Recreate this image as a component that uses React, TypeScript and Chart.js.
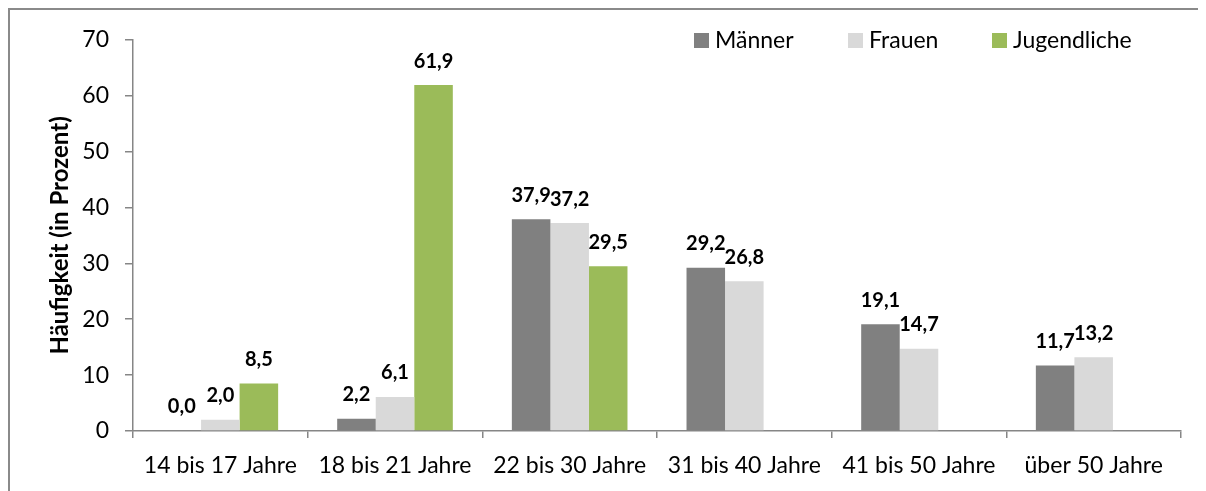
import React, { useEffect, useRef } from 'react';
import { Chart, registerables } from 'chart.js';

Chart.register(...registerables);

const categories = ['14 bis 17 Jahre', '18 bis 21 Jahre', '22 bis 30 Jahre', '31 bis 40 Jahre', '41 bis 50 Jahre', 'über 50 Jahre'];
const maenner: (number | null)[] = [0.0, 2.2, 37.9, 29.2, 19.1, 11.7];
const frauen: (number | null)[] = [2.0, 6.1, 37.2, 26.8, 14.7, 13.2];
const jugendliche: (number | null)[] = [8.5, 61.9, 29.5, null, null, null];
const seriesNames = ['Männer', 'Frauen', 'Jugendliche'];
const seriesColors = ['#808080', '#D9D9D9', '#9BBB59'];
const yAxisTitle = 'Häufigkeit (in Prozent)';
const yMin = 0;
const yMax = 70;
const yStep = 10;

const FONT = 'Lato, Carlito, Calibri, "Open Sans", sans-serif';
const AXIS_GRAY = '#868686';

const fmt = (v: number) => v.toFixed(1).replace('.', ',');

const dataLabelPlugin = {
  id: 'dataLabels',
  afterDatasetsDraw(chart: any) {
    const ctx = chart.ctx;
    ctx.save();
    ctx.font = `bold 20px ${FONT}`;
    ctx.fillStyle = '#000';
    ctx.textAlign = 'center';
    ctx.textBaseline = 'middle';
    chart.data.datasets.forEach((ds: any, i: number) => {
      const meta = chart.getDatasetMeta(i);
      meta.data.forEach((el: any, j: number) => {
        const v = ds.data[j];
        if (v === null || v === undefined) return;
        ctx.fillText(fmt(v), el.x, el.y - 24);
      });
    });
    ctx.restore();
  },
};

const legendPlugin = {
  id: 'customLegend',
  afterDraw(chart: any) {
    const ctx = chart.ctx;
    const starts = [684, 838, 982];
    const cy = 30;
    ctx.save();
    ctx.font = `23px ${FONT}`;
    ctx.textBaseline = 'middle';
    ctx.textAlign = 'left';
    chart.data.datasets.forEach((ds: any, i: number) => {
      const x = starts[i];
      ctx.fillStyle = ds.backgroundColor;
      ctx.fillRect(x, cy - 7, 15, 15);
      ctx.fillStyle = '#000';
      ctx.fillText(ds.label, x + 21, cy + 1);
    });
    ctx.restore();
  },
};

export default function App() {
  const canvasRef = useRef<HTMLCanvasElement | null>(null);

  useEffect(() => {
    document.body.style.overflow = 'hidden';
    const canvas = canvasRef.current;
    if (!canvas) return;
    const seriesData = [maenner, frauen, jugendliche];
    const chart = new Chart(canvas, {
      type: 'bar',
      data: {
        labels: categories,
        datasets: seriesNames.map((name, i) => ({
          label: name,
          data: seriesData[i],
          backgroundColor: seriesColors[i],
          borderWidth: 0,
          categoryPercentage: 0.662,
          barPercentage: 1.0,
        })),
      },
      options: {
        animation: false,
        responsive: false,
        maintainAspectRatio: false,
        layout: { padding: { top: 29, right: 25, left: 0, bottom: 0 } },
        plugins: {
          legend: { display: false },
          tooltip: { enabled: false },
        },
        scales: {
          x: {
            type: 'category',
            offset: true,
            grid: {
              display: true,
              offset: true,
              drawOnChartArea: false,
              drawTicks: true,
              tickLength: 7,
              color: AXIS_GRAY,
              lineWidth: 1.5,
            },
            border: { display: true, color: AXIS_GRAY, width: 1.5 },
            ticks: {
              color: '#000',
              font: { family: FONT, size: 23 },
              padding: 14,
              maxRotation: 0,
              autoSkip: false,
            },
            afterFit: (scale: any) => {
              scale.height = 60;
            },
          },
          y: {
            min: yMin,
            max: yMax,
            grid: {
              display: true,
              drawOnChartArea: false,
              drawTicks: true,
              tickLength: 8,
              color: AXIS_GRAY,
              lineWidth: 1.5,
            },
            border: { display: true, color: AXIS_GRAY, width: 1.5 },
            ticks: {
              stepSize: yStep,
              color: '#000',
              font: { family: FONT, size: 23 },
              padding: 16,
            },
            title: {
              display: true,
              text: yAxisTitle,
              color: '#000',
              font: { family: FONT, size: 24, weight: 'bold' },
              padding: { top: 36, bottom: 0 },
            },
            afterFit: (scale: any) => {
              scale.width = 123;
            },
          },
        },
      },
      plugins: [dataLabelPlugin, legendPlugin],
    });
    return () => chart.destroy();
  }, []);

  return (
    <div
      style={{
        width: 1198,
        height: 483,
        borderLeft: '2px solid #8a8a8a',
        borderTop: '2px solid #8a8a8a',
        boxSizing: 'border-box',
        position: 'relative',
        background: '#fff',
      }}
    >
      <canvas ref={canvasRef} width={1196} height={481} style={{ display: 'block' }} />
    </div>
  );
}
